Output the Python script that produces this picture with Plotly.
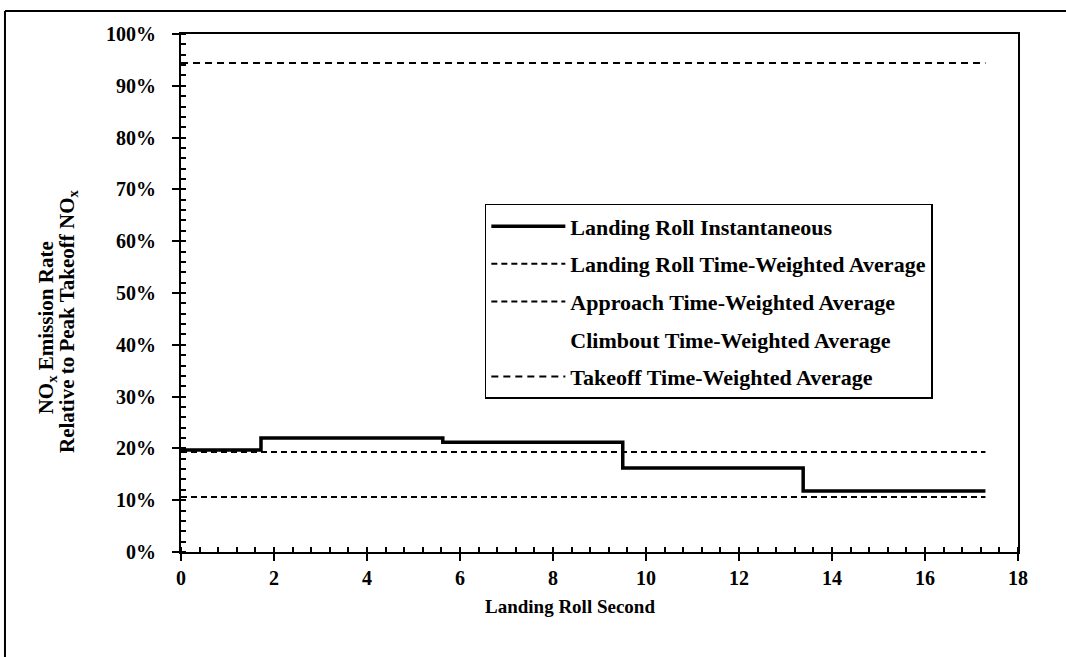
import plotly.graph_objects as go

# Landing roll instantaneous NOx (step function), seconds vs fraction of peak takeoff NOx
inst_x = [0, 1.72, 5.63, 9.5, 13.38, 17.3]
inst_y = [0.197, 0.220, 0.212, 0.162, 0.118, 0.118]

twa_x = [0, 17.3]
landing_twa = [0.193, 0.193]
approach_twa = [0.106, 0.106]
takeoff_twa = [0.944, 0.944]
climbout_x = [None]
climbout_twa = [None]

x_ticks = [0, 2, 4, 6, 8, 10, 12, 14, 16, 18]
y_ticks = [0, 0.1, 0.2, 0.3, 0.4, 0.5, 0.6, 0.7, 0.8, 0.9, 1.0]

FONT = "Liberation Serif"

fig = go.Figure()
fig.add_trace(go.Scatter(x=inst_x, y=inst_y, mode="lines", line_shape="hv",
                         line=dict(color="black", width=3.5),
                         name="Landing Roll Instantaneous", legendgroup="a"))
fig.add_trace(go.Scatter(x=twa_x, y=landing_twa, mode="lines",
                         line=dict(color="black", width=2, dash="6px,4px"),
                         name="Landing Roll Time-Weighted Average", legendgroup="b"))
fig.add_trace(go.Scatter(x=twa_x, y=approach_twa, mode="lines",
                         line=dict(color="black", width=2, dash="6px,4px"),
                         name="Approach Time-Weighted Average", legendgroup="c"))
fig.add_trace(go.Scatter(x=climbout_x, y=climbout_twa, mode="lines",
                         line=dict(color="rgba(0,0,0,0)", width=2),
                         name="Climbout Time-Weighted Average", legendgroup="d",
                         showlegend=True))
fig.add_trace(go.Scatter(x=twa_x, y=takeoff_twa, mode="lines",
                         line=dict(color="black", width=2, dash="7px,5px"),
                         name="Takeoff Time-Weighted Average", legendgroup="e"))

fig.update_layout(
    width=1066, height=657,
    margin=dict(l=181, r=48, t=34, b=105),
    paper_bgcolor="white", plot_bgcolor="white",
    font=dict(family=FONT, size=20, color="black", weight="bold"),
    showlegend=True,
    legend=dict(x=0.363, y=0.672, xanchor="left", yanchor="top",
                bgcolor="white", bordercolor="black", borderwidth=1.5,
                font=dict(family=FONT, size=22, color="black", weight="bold"),
                tracegroupgap=6, itemwidth=74),
    xaxis=dict(range=[0, 18], tickvals=x_ticks, ticktext=[str(v) for v in x_ticks],
               showgrid=False, zeroline=False,
               showline=True, linecolor="black", linewidth=2, mirror=True,
               ticks="outside", ticklen=7, tickwidth=2, tickcolor="black",
               minor=dict(dtick=0.4, ticks="inside", ticklen=5, tickwidth=1.5, tickcolor="black"),
               tickfont=dict(family=FONT, size=20, weight="bold"),
               title=None),
    yaxis=dict(range=[0, 1], tickvals=y_ticks, ticktext=[f"{int(round(v*100))}%" for v in y_ticks],
               showgrid=False, zeroline=False,
               showline=True, linecolor="black", linewidth=2, mirror=True,
               ticks="outside", ticklen=7, tickwidth=2, tickcolor="black",
               ticklabelstandoff=12,
               minor=dict(dtick=0.02, ticks="inside", ticklen=5, tickwidth=1.5, tickcolor="black"),
               tickfont=dict(family=FONT, size=20, weight="bold"),
               title=None),
)

# X-axis title
fig.add_annotation(text="Landing Roll Second", xref="paper", yref="paper",
                   x=0.465, y=-0.105, xanchor="center", yanchor="middle", showarrow=False,
                   font=dict(family=FONT, size=19, weight="bold", color="black"))

# Y-axis title (two rotated lines)
fig.add_annotation(text="NO<sub>x</sub> Emission Rate",
                   xref="paper", yref="paper", x=-0.160, y=0.432, xanchor="center", yanchor="middle",
                   textangle=-90, showarrow=False,
                   font=dict(family=FONT, size=21, weight="bold", color="black"))
fig.add_annotation(text="Relative to Peak Takeoff NO<sub>x</sub>",
                   xref="paper", yref="paper", x=-0.135, y=0.444, xanchor="center", yanchor="middle",
                   textangle=-90, showarrow=False,
                   font=dict(family=FONT, size=21, weight="bold", color="black"))

# Outer frame: top and left edges only (others fall outside the page in the reference)
fig.add_shape(type="line", xref="paper", yref="paper",
              x0=-0.2103, x1=1.1, y0=1.0444, y1=1.0444,
              line=dict(color="black", width=2), layer="below")
fig.add_shape(type="line", xref="paper", yref="paper",
              x0=-0.2103, x1=-0.2103, y0=-0.22, y1=1.0444,
              line=dict(color="black", width=2), layer="below")

fig.write_html("out.html", config={"displayModeBar": False},
               post_script="document.body.style.margin='0';document.body.style.overflow='hidden';")
